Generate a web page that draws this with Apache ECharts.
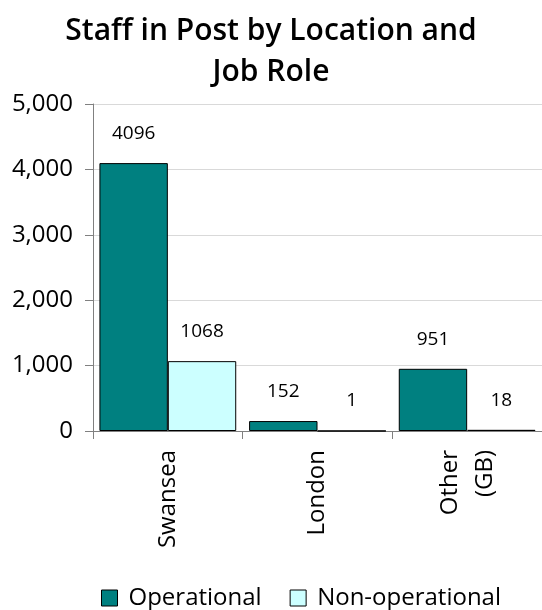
<!DOCTYPE html>
<html>
<head>
<meta charset="utf-8">
<script src="https://cdn.jsdelivr.net/npm/echarts@6/dist/echarts.min.js"></script>
<style>
html,body{margin:0;padding:0;background:#fff;}
#chart{width:542px;height:610px;}
</style>
</head>
<body>
<div id="chart"></div>
<script>
var titleText = 'Staff in Post by Location and\nJob Role';
var categories = ['Swansea', 'London', 'Other\n(GB)'];
var seriesNames = ['Operational', 'Non-operational'];
var operational = [4096, 152, 951];
var nonOperational = [1068, 1, 18];
var yTicks = [0, 1000, 2000, 3000, 4000, 5000];

var FONT = '"Open Sans", sans-serif';
var chart = echarts.init(document.getElementById('chart'), null, {renderer: 'canvas'});

var labelCommon = {
  show: true,
  position: 'top',
  distance: 20,
  color: '#000',
  fontFamily: FONT,
  fontSize: 19
};

chart.setOption({
  animation: false,
  backgroundColor: '#fff',
  title: {
    text: titleText,
    left: 'center',
    top: 6,
    textStyle: {
      fontFamily: FONT,
      fontWeight: 600,
      fontSize: 30,
      lineHeight: 41,
      color: '#000'
    }
  },
  legend: {
    data: seriesNames,
    left: 101,
    top: 586,
    padding: 0,
    itemWidth: 16,
    itemHeight: 16,
    itemGap: 28,
    icon: 'rect',
    itemStyle: {borderColor: '#000', borderWidth: 1},
    textStyle: {
      fontFamily: FONT,
      fontSize: 24,
      color: '#000',
      padding: [0, 0, 0, 6]
    }
  },
  grid: {
    left: 93,
    right: 0,
    top: 104,
    bottom: 179,
    containLabel: false
  },
  xAxis: {
    type: 'category',
    data: categories,
    axisLine: {show: true, lineStyle: {color: '#808080', width: 1}},
    axisTick: {show: true, length: 8, lineStyle: {color: '#808080'}},
    axisLabel: {
      rotate: 90,
      margin: 19,
      color: '#000',
      fontFamily: FONT,
      fontSize: 24,
      lineHeight: 35
    }
  },
  yAxis: {
    type: 'value',
    min: yTicks[0],
    max: yTicks[yTicks.length - 1],
    interval: yTicks[1] - yTicks[0],
    axisLine: {show: true, lineStyle: {color: '#808080', width: 1}},
    axisTick: {show: true, length: 8, lineStyle: {color: '#808080'}},
    splitLine: {show: true, lineStyle: {color: '#d9d9d9', width: 1}},
    axisLabel: {
      margin: 20,
      color: '#000',
      fontFamily: FONT,
      fontSize: 24
    }
  },
  series: [
    {
      name: seriesNames[0],
      type: 'bar',
      data: operational,
      barGap: '0%',
      barCategoryGap: '8.6%',
      itemStyle: {color: '#008080', borderColor: '#000', borderWidth: 1},
      label: labelCommon
    },
    {
      name: seriesNames[1],
      type: 'bar',
      data: nonOperational,
      barGap: '0%',
      barCategoryGap: '8.6%',
      itemStyle: {color: '#ccffff', borderColor: '#000', borderWidth: 1},
      label: labelCommon
    }
  ]
});
</script>
</body>
</html>
